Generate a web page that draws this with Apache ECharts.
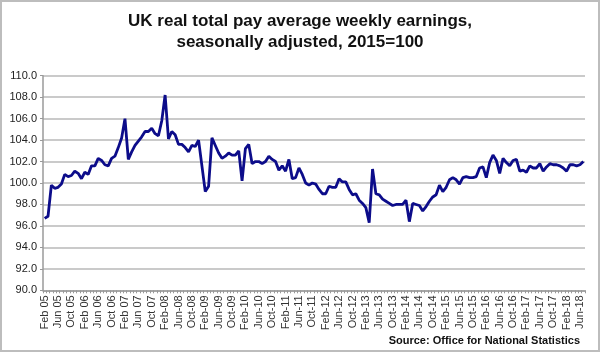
<!DOCTYPE html>
<html>
<head>
<meta charset="utf-8">
<script src="https://cdn.jsdelivr.net/npm/echarts@6/dist/echarts.min.js"></script>
<style>
  html, body { margin: 0; padding: 0; background: #fff; }
  #chartBox { width: 600px; height: 352px; }
</style>
</head>
<body>
<div id="chartBox"></div>
<script>
// UK real total pay AWE, 2015=100, monthly Feb 2005 - Jul 2018
const monthNames = ['Jan', 'Feb', 'Mar', 'Apr', 'May', 'Jun', 'Jul', 'Aug', 'Sep', 'Oct', 'Nov', 'Dec']
const startYear = 2005
const startMonth = 1 // Feb
const yTicks = [90, 92, 94, 96, 98, 100, 102, 104, 106, 108, 110]

const earnings = [
  96.7, 96.9, 99.8, 99.5, 99.6, 99.9, 100.8, 100.6, 100.7, 101.1, 100.9, 100.4,
  101.0, 100.8, 101.6, 101.6, 102.3, 102.1, 101.7, 101.6, 102.3, 102.5, 103.3, 104.2,
  106.0, 102.2, 102.9, 103.5, 103.9, 104.3, 104.8, 104.8, 105.1, 104.6, 104.4, 105.8,
  108.2, 104.1, 104.8, 104.5, 103.6, 103.6, 103.3, 102.9, 103.5, 103.4, 104.0, 101.6,
  99.2, 99.7, 104.2, 103.5, 102.8, 102.3, 102.5, 102.8, 102.6, 102.6, 103.0, 100.2,
  103.2, 103.6, 101.8, 102.0, 102.0, 101.8, 102.0, 102.5, 102.2, 102.0, 101.2, 101.6,
  101.1, 102.2, 100.4, 100.5, 101.4, 100.8, 100.0, 99.8, 100.0, 99.9, 99.4, 99.0,
  99.0, 99.7, 99.6, 99.6, 100.4, 100.1, 100.1, 99.4, 98.9, 99.0, 98.4, 98.1,
  97.7, 96.3, 101.3, 99.0, 98.9, 98.5, 98.3, 98.1, 97.9, 98.0, 98.0, 98.0,
  98.4, 96.4, 98.1, 98.0, 97.9, 97.4, 97.8, 98.3, 98.7, 98.9, 99.8, 99.2,
  99.6, 100.3, 100.5, 100.3, 99.9, 100.5, 100.6, 100.5, 100.5, 100.6, 101.4, 101.5,
  100.5, 101.9, 102.6, 102.1, 100.9, 102.3, 101.9, 101.6, 102.1, 102.2, 101.1, 101.2,
  101.0, 101.6, 101.4, 101.4, 101.8, 101.1, 101.5, 101.8, 101.7, 101.7, 101.6, 101.4,
  101.1, 101.7, 101.7, 101.6, 101.7, 102.0
]

// category labels: "Feb 05" style up to 2007, "Feb-08" style after
const months = earnings.map((v, i) => {
  const m = (startMonth + i) % 12
  const y = startYear + Math.floor((startMonth + i) / 12)
  const yy = String(y).slice(2)
  return monthNames[m] + (y < 2008 ? ' ' : '-') + yy
})

const chart = echarts.init(document.getElementById('chartBox'))
const option = {
  animation: false,
  textStyle: { fontFamily: '"Liberation Sans", Arial, sans-serif' },
  title: {
    text: 'UK real total pay average weekly earnings,\nseasonally adjusted, 2015=100',
    left: 'center',
    top: 6,
    textStyle: {
      fontSize: 17,
      fontWeight: 'bold',
      color: '#111',
      lineHeight: 21
    }
  },
  graphic: [
    {
      type: 'rect',
      shape: { x: 1, y: 1, width: 598, height: 350 },
      style: { fill: 'none', stroke: '#bdbdbd', lineWidth: 2 },
      silent: true
    },
    {
      type: 'text',
      right: 20,
      top: 335,
      style: {
        text: 'Source: Office for National Statistics',
        font: 'bold 11px "Liberation Sans", Arial, sans-serif',
        fill: '#111'
      }
    }
  ],
  grid: {
    left: 43,
    right: 15,
    top: 75.7,
    bottom: 61.7
  },
  xAxis: {
    type: 'category',
    data: months,
    boundaryGap: true,
    axisLine: { lineStyle: { color: '#9a9a9a', width: 1.5 } },
    axisTick: {
      show: true,
      interval: 0,
      length: 3,
      lineStyle: { color: '#9a9a9a' }
    },
    axisLabel: {
      interval: 3,
      rotate: 90,
      fontSize: 11,
      color: '#333',
      margin: 5
    },
    splitLine: { show: false }
  },
  yAxis: {
    type: 'value',
    min: yTicks[0],
    max: yTicks[yTicks.length - 1],
    interval: 2,
    axisLine: { show: true, lineStyle: { color: '#9a9a9a', width: 1.5 } },
    axisTick: { show: true, length: 3, lineStyle: { color: '#9a9a9a' } },
    axisLabel: {
      fontSize: 11,
      color: '#222',
      margin: 6,
      formatter: v => v.toFixed(1)
    },
    splitLine: {
      show: true,
      lineStyle: { color: '#b8b8b8', width: 1.5 }
    }
  },
  series: [
    {
      type: 'line',
      data: earnings,
      symbol: 'none',
      lineStyle: { color: '#0c0c8a', width: 2.8 },
      itemStyle: { color: '#0c0c8a' }
    }
  ]
}
chart.setOption(option)
</script>
</body>
</html>
